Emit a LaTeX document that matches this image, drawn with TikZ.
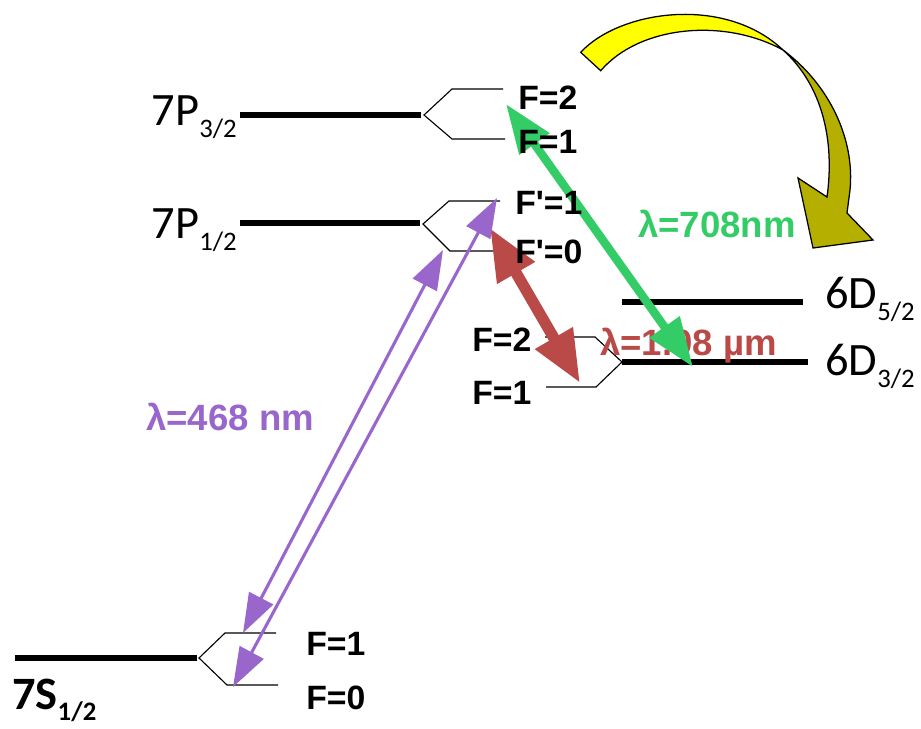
\documentclass[tikz,border=0pt]{standalone}
\usepackage{fontspec}
\setmainfont{Carlito}
\newfontfamily\arialfont{Liberation Sans}
\usetikzlibrary{positioning, arrows.meta}

\definecolor{violet468}{RGB}{153,102,204}
\definecolor{green708}{RGB}{51,204,102}
\definecolor{red108}{RGB}{185,74,72}
\definecolor{sunyellow}{RGB}{255,255,0}
\definecolor{olivedark}{RGB}{181,176,0}

\newcommand{\termname}[3][9pt]{#2\raisebox{-#1}{\fontsize{19}{19}\selectfont #3}}

\begin{document}
\begin{tikzpicture}[
  x=0.025cm, y=-0.025cm,
  level/.style = {line width=4pt},
  fork/.style = {line width=0.8pt},
  sublevel/.style = {font=\arialfont\bfseries\fontsize{24}{24}\selectfont, anchor=west, inner sep=0pt},
  term/.style = {font=\fontsize{33}{33}\selectfont, inner sep=0pt},
  wavelength/.style = {font=\arialfont\bfseries\fontsize{26}{26}\selectfont, anchor=base west, inner sep=0pt},
  bluearrow/.style = {{Triangle[length=28pt, width=19pt]}-{Triangle[length=28pt, width=19pt]}, draw=violet468, line width=2.2pt},
  greenarrow/.style = {{Triangle[length=35pt, width=25pt]}-{Triangle[length=35pt, width=25pt]}, draw=green708, line width=6pt},
  redarrow/.style = {{Triangle[length=37pt, width=29pt]}-{Triangle[length=37pt, width=29pt]}, draw=red108, line width=8pt}
  ]

\useasboundingbox (0,0) rectangle (921,729);

\draw[level] (240,115) -- (421,115);
\draw[level] (240,223) -- (420,223);
\draw[level] (15,658) -- (197,658);
\draw[level] (622,302) -- (803,302);
\draw[level] (622,362) -- (808,362);

\draw[fork] (503,89) -- (452,89) -- (424,115) -- (452,139) -- (505,139);
\draw[fork] (500,201) -- (449,201) -- (423,224) -- (450,251) -- (502,251);
\draw[fork] (276,633) -- (225,633) -- (199,658) -- (227,685) -- (278,685);
\draw[fork] (545,337) -- (595,337) -- (622,362) -- (596,387) -- (546,387);

\node[term, anchor=base east] (p32) at (237,125) {\termname{7P}{3/2}};
\node[term, anchor=base east] (p12) at (237,238) {\termname{7P}{1/2}};
\node[term, anchor=base west, font=\bfseries\fontsize{33}{33}\selectfont] (s12) at (12,709) {\termname[8pt]{7S}{1/2}};
\node[term, anchor=base west] (d52) at (825,308) {\termname{6D}{5/2}};
\node[term, anchor=base west] (d32) at (825,375) {\termname{6D}{3/2}};

\coordinate (p32f2) at (506,104);
\coordinate (p12f1) at (497,198);
\coordinate (p12f0) at (490,228);
\coordinate (p12f0b) at (443,250);
\coordinate (d32line) at (693,367);
\coordinate (d32f1) at (580,383);
\coordinate (s12f1) at (243,633);
\coordinate (s12f0) at (233,687);

\draw[redarrow] (p12f0) -- (d32f1);
\draw[bluearrow] (p12f0b) -- (s12f1);
\draw[bluearrow] (p12f1) -- (s12f0);

\node[wavelength, text=red108] (lam108) at (600,355) {λ=1.08 µm};
\draw[greenarrow] (p32f2) -- (d32line);
\node[wavelength, text=green708] (lam708) at (638,237) {λ=708nm};
\node[wavelength, text=violet468] (lam468) at (146,430) {λ=468 nm};

\node[sublevel] (p32a) at (518,98) {F=2};
\node[sublevel] (p32b) at (518,142) {F=1};
\node[sublevel] (p12a) at (515,203) {F'=1};
\node[sublevel] (p12b) at (515,252) {F'=0};
\node[sublevel] (d32a) at (472,340) {F=2};
\node[sublevel] (d32b) at (472,393) {F=1};
\node[sublevel] (s12a) at (306,644) {F=1};
\node[sublevel] (s12b) at (306,698) {F=0};

\filldraw[fill=sunyellow, line width=0.9pt] (580.7,52.3) .. controls (620,10) and (725,-5) .. (783,50) .. controls (725,18) and (640,25) .. (600.7,70.7) -- cycle;
\filldraw[fill=olivedark, line width=0.9pt] (783,50) .. controls (830,85) and (855,140) .. (850,190) -- (847,213) -- (873,240) -- (813,248) -- (798,178) -- (827,197) .. controls (835,140) and (822,85) .. (783,50) -- cycle;

\end{tikzpicture}
\end{document}
